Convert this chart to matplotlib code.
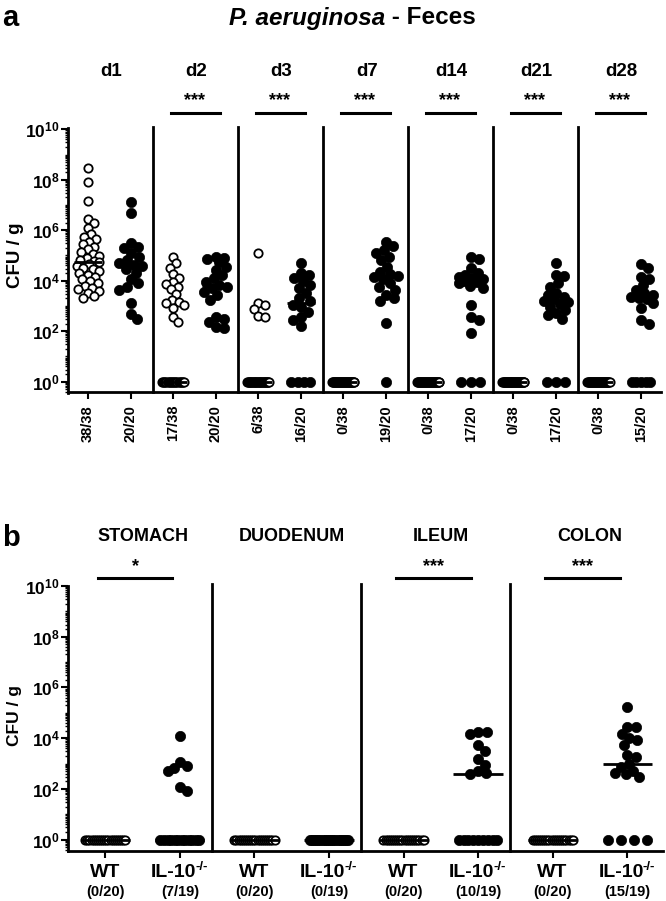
import numpy as np
import matplotlib
matplotlib.use('Agg')
import matplotlib.pyplot as plt
from matplotlib.transforms import blended_transform_factory, offset_copy
from matplotlib.ticker import LogLocator, FixedLocator, NullFormatter

plt.rcParams['font.family'] = ['Liberation Sans', 'DejaVu Sans']
plt.rcParams['font.weight'] = 'bold'
plt.rcParams['mathtext.fontset'] = 'custom'
plt.rcParams['mathtext.bf'] = 'Liberation Sans:bold'
plt.rcParams['mathtext.rm'] = 'Liberation Sans:bold'
plt.rcParams['mathtext.default'] = 'bf'

# ---- panel a: feces, log10 CFU/g of positive samples; negatives are shown at 10^0
days = ['d1', 'd2', 'd3', 'd7', 'd14', 'd21', 'd28']
day_sig = ['', '***', '***', '***', '***', '***', '***']
feces_counts = ['38/38', '20/20', '17/38', '20/20', '6/38', '16/20', '0/38',
                '19/20', '0/38', '17/20', '0/38', '17/20', '0/38', '15/20']

feces_wt_pos = [
    [8.48, 7.9, 7.16, 6.43, 6.27, 6.1, 5.85, 5.75, 5.65, 5.55, 5.45, 5.35, 5.25,
     5.12, 5.05, 4.98, 4.9, 4.82, 4.78, 4.74, 4.68, 4.6, 4.52, 4.45, 4.38, 4.3,
     4.22, 4.15, 4.08, 3.98, 3.9, 3.8, 3.72, 3.66, 3.6, 3.5, 3.38, 3.32],
    [4.95, 4.69, 4.52, 4.27, 4.1, 3.94, 3.87, 3.76, 3.67, 3.47, 3.24, 3.17, 3.1,
     3.04, 2.91, 2.55, 2.35],
    [5.09, 3.1, 3.04, 2.88, 2.6, 2.55],
    [], [], [], [],
]
feces_wt_neg = [0, 21, 32, 38, 38, 38, 38]

feces_il_pos = [
    [7.13, 6.67, 5.48, 5.35, 5.28, 5.11, 4.95, 4.82, 4.7, 4.62, 4.58, 4.45, 4.3,
     4.05, 3.9, 3.75, 3.62, 3.1, 2.67, 2.47],
    [4.95, 4.89, 4.85, 4.76, 4.56, 4.43, 4.23, 4.1, 3.96, 3.83, 3.76, 3.7, 3.57,
     3.43, 3.24, 2.58, 2.47, 2.38, 2.15, 2.11],
    [4.72, 4.32, 4.23, 4.1, 4.0, 3.83, 3.7, 3.5, 3.3, 3.2, 3.05, 2.95, 2.77,
     2.58, 2.44, 2.22],
    [5.55, 5.38, 5.22, 5.09, 4.95, 4.82, 4.56, 4.36, 4.25, 4.18, 4.14, 4.06,
     3.9, 3.76, 3.63, 3.43, 3.3, 3.2, 2.34],
    [4.95, 4.85, 4.49, 4.29, 4.23, 4.16, 4.1, 4.06, 4.0, 3.95, 3.89, 3.8, 3.7,
     3.04, 2.58, 2.44, 1.92],
    [4.69, 4.23, 4.19, 3.9, 3.76, 3.53, 3.43, 3.37, 3.26, 3.2, 3.14, 3.08,
     2.97, 2.84, 2.73, 2.64, 2.5],
    [4.66, 4.49, 4.16, 4.06, 3.83, 3.63, 3.5, 3.42, 3.35, 3.3, 3.26, 3.1, 2.91,
     2.44, 2.29],
]
feces_il_neg = [0, 0, 4, 1, 3, 3, 5]

# ---- panel b: gut sections
sections = ['STOMACH', 'DUODENUM', 'ILEUM', 'COLON']
section_sig = ['*', '', '***', '***']
gut_wt_counts = ['(0/20)', '(0/20)', '(0/20)', '(0/20)']
gut_il_counts = ['(7/19)', '(0/19)', '(10/19)', '(15/19)']

gut_wt_pos = [[], [], [], []]
gut_wt_neg = [20, 20, 20, 20]
gut_il_pos = [
    [4.08, 3.07, 2.9, 2.81, 2.72, 2.09, 1.93],
    [],
    [4.23, 4.23, 4.16, 3.73, 3.51, 3.18, 2.96, 2.7, 2.63, 2.59],
    [5.23, 4.44, 4.44, 4.18, 4.01, 3.92, 3.73, 3.33, 3.27, 3.0, 2.85, 2.72,
     2.64, 2.6, 2.48],
]
gut_il_neg = [12, 19, 9, 4]


def swarm(ax, x0, logs, diam, lim):
    # simple beeswarm in pixel space; offsets limited to +-lim pixels
    tr = ax.transData
    p0 = tr.transform((x0, 1.0))[0]
    scale = tr.transform((x0 + 1, 1.0))[0] - p0
    ys = [tr.transform((x0, 10 ** v))[1] for v in logs]
    placed = []
    xs = np.zeros(len(logs))
    for i in np.argsort(ys)[::-1]:
        y = ys[i]
        cands = [0.0]
        for px, py in placed:
            dy = abs(py - y)
            if dy < diam:
                dx = np.sqrt(diam ** 2 - dy ** 2)
                cands += [px + dx, px - dx]
        cands = sorted(cands, key=abs)
        best = None
        for c in cands:
            if abs(c) > lim + 1e-9:
                continue
            if all((c - px) ** 2 + (y - py) ** 2 >= diam ** 2 - 1e-6 for px, py in placed):
                best = c
                break
        if best is None:
            grid = np.linspace(-lim, lim, 25)
            dmin = [min([(g - px) ** 2 + (y - py) ** 2 for px, py in placed] + [1e9]) for g in grid]
            best = grid[int(np.argmax(dmin))]
        placed.append((best, y))
        xs[i] = x0 + best / scale
    return xs


def draw_column(ax, x0, pos, nneg, filled, zero_half):
    logs = list(pos)
    if filled:
        xs = swarm(ax, x0, logs, 8.5, 12) if logs else np.array([])
    else:
        xs = swarm(ax, x0, logs, 7.0, 11) if logs else np.array([])
    zx = np.linspace(-zero_half, zero_half, nneg) + x0 if nneg > 1 else np.full(nneg, float(x0))
    allx = np.concatenate([xs, zx])
    ally = np.concatenate([10.0 ** np.array(logs), np.ones(nneg)]) if logs else np.ones(nneg)
    if filled:
        ax.plot(allx, ally, 'o', ms=7.4, mfc='black', mec='black', mew=0.5,
                clip_on=False, zorder=3)
    else:
        ax.plot(allx, ally, 'o', ms=6.0, mfc='white', mec='black', mew=1.3,
                clip_on=False, zorder=3)
    med = np.median(logs + [0.0] * nneg)
    ax.plot([x0 - 0.33, x0 + 0.33], [10 ** med] * 2, color='black', lw=2,
            solid_capstyle='butt', zorder=4, clip_on=False)


def style_axis(ax, ylo, yhi):
    ax.set_yscale('log')
    ax.set_ylim(10 ** ylo, 10 ** yhi)
    for s in ['top', 'right']:
        ax.spines[s].set_visible(False)
    for s in ['left', 'bottom']:
        ax.spines[s].set_linewidth(2)
    ax.yaxis.set_major_locator(FixedLocator([10.0 ** k for k in range(0, 11, 2)]))
    ax.set_yticklabels([r'$10^{%d}$' % k for k in range(0, 11, 2)], fontsize=12.5)
    ax.yaxis.set_minor_locator(LogLocator(base=10, subs=np.arange(1, 10), numticks=100))
    ax.yaxis.set_minor_formatter(NullFormatter())
    ax.tick_params(axis='y', which='major', length=5, width=1.5, pad=1)
    ax.tick_params(axis='y', which='minor', length=2.5, width=1.0)
    ax.tick_params(axis='x', which='major', length=5, width=1.5)


fig = plt.figure(figsize=(6.66, 9.01), dpi=100)
renderer = fig.canvas.get_renderer()

# ---------------- panel a
ax1 = fig.add_axes([68 / 666, 1 - 392.5 / 901, 593 / 666, 264.5 / 901])
ax1.set_xlim(-0.47, 13.47)
style_axis(ax1, -0.43, 10.05)
ax1.set_xticks(np.arange(len(feces_counts)))
ax1.set_xticklabels(feces_counts, rotation=90, fontsize=10.5, va='top')
ax1.tick_params(axis='x', pad=4)
tb1 = blended_transform_factory(ax1.transData, ax1.transAxes)

for g in range(len(days)):
    draw_column(ax1, 2 * g, feces_wt_pos[g], feces_wt_neg[g], False, 0.26)
    draw_column(ax1, 2 * g + 1, feces_il_pos[g], feces_il_neg[g], True, 0.22)
    ax1.text(2 * g + 0.55, 1.212, days[g], transform=tb1, ha='center',
             va='center', fontsize=13.5)
    if g > 0:
        ax1.plot([2 * g - 0.48] * 2, [0, 1.005], transform=tb1, color='black',
                 lw=2, clip_on=False)
    if day_sig[g]:
        ax1.plot([2 * g - 0.05, 2 * g + 1.1], [1.0586, 1.0586], transform=tb1,
                 color='black', lw=2.2, clip_on=False)
        ax1.text(2 * g + 0.5, 1.072, day_sig[g], transform=tb1, ha='center',
                 va='bottom', fontsize=13)

fig.text(15 / 666, 1 - 255 / 901, 'CFU / g', rotation=90, ha='center',
         va='center', fontsize=13.5)
fig.text(2 / 666, 1 - 18 / 901, 'a', ha='left', va='center', fontsize=21)
fig.text(385 / 666, 1 - 18 / 901, 'P. aeruginosa', style='italic', ha='right',
         va='center', fontsize=17.5)
fig.text(385 / 666, 1 - 18 / 901, ' - Feces', ha='left', va='center', fontsize=17.5)

# ---------------- panel b
ax2 = fig.add_axes([68 / 666, 1 - 851 / 901, 595 / 666, 265 / 901])
ax2.set_xlim(-0.5, 7.48)
style_axis(ax2, -0.45, 10.0)
ax2.set_xticks(np.arange(8))
ax2.set_xticklabels([''] * 8)
tb2 = blended_transform_factory(ax2.transData, ax2.transAxes)

for g in range(len(sections)):
    draw_column(ax2, 2 * g, gut_wt_pos[g], gut_wt_neg[g], False, 0.27)
    draw_column(ax2, 2 * g + 1, gut_il_pos[g], gut_il_neg[g], True, 0.26)
    ax2.text(2 * g + 0.5, 1.185, sections[g], transform=tb2, ha='center',
             va='center', fontsize=13)
    if g > 0:
        ax2.plot([2 * g - 0.57] * 2, [0, 1.008], transform=tb2, color='black',
                 lw=2, clip_on=False)
    if section_sig[g]:
        ax2.plot([2 * g - 0.1, 2 * g + 0.9], [1.030, 1.030], transform=tb2,
                 color='black', lw=2.2, clip_on=False)
        ax2.text(2 * g + 0.4, 1.040, section_sig[g], transform=tb2, ha='center',
                 va='bottom', fontsize=13)
    ax2.text(2 * g, -0.083, 'WT', transform=tb2, ha='center', va='center',
             fontsize=14)
    # IL-10 with a "-/-" superscript, built from two texts
    main = ax2.text(2 * g + 1, -0.083, 'IL-10', transform=tb2, ha='center',
                    va='center', fontsize=14)
    sup = ax2.text(2 * g + 1, -0.083, '-/-', transform=tb2, ha='left',
                   va='center', fontsize=9.5)
    wm = main.get_window_extent(renderer).width
    ws = sup.get_window_extent(renderer).width
    main.set_transform(offset_copy(tb2, fig=fig, x=-ws / 2, y=0, units='dots'))
    sup.set_transform(offset_copy(tb2, fig=fig, x=wm / 2 - ws / 2 - 1, y=6, units='dots'))
    ax2.text(2 * g, -0.155, gut_wt_counts[g], transform=tb2, ha='center',
             va='center', fontsize=10.5)
    ax2.text(2 * g + 1, -0.155, gut_il_counts[g], transform=tb2, ha='center',
             va='center', fontsize=10.5)

fig.text(15 / 666, 1 - 716 / 901, 'CFU / g', rotation=90, ha='center',
         va='center', fontsize=12.5)
fig.text(2 / 666, 1 - 538 / 901, 'b', ha='left', va='center', fontsize=21)

fig.savefig('out.png', dpi=100)
